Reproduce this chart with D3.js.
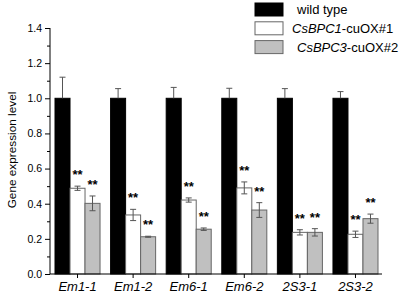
<!DOCTYPE html>
<html lang="en">
<head>
    <meta charset="UTF-8">
    <title>Gene expression bar chart</title>
    <script src="https://d3js.org/d3.v7.min.js"></script>
    <style>
        body { margin: 0; background: #fff; font-family: "Liberation Sans", Arial, sans-serif; }
        .tick text { font-family: "Liberation Sans", Arial, sans-serif; }
    </style>
</head>
<body>
<svg id="chart" width="403" height="295"></svg>
<script>
    // genes on the x axis and the three lines
    const genes = ["Em1-1", "Em1-2", "Em6-1", "Em6-2", "2S3-1", "2S3-2"];
    const series = ["wt", "bpc1", "bpc3"];
    const wildType = [1.0, 1.0, 1.0, 1.0, 1.0, 1.0];
    const wildTypeErr = [0.12, 0.055, 0.062, 0.057, 0.055, 0.038];
    const bpc1 = [0.488, 0.336, 0.421, 0.490, 0.237, 0.226];
    const bpc1Err = [0.012, 0.032, 0.012, 0.034, 0.015, 0.018];
    const bpc3 = [0.402, 0.212, 0.255, 0.364, 0.237, 0.315];
    const bpc3Err = [0.042, 0.003, 0.007, 0.042, 0.021, 0.026];
    const yTicks = [0, 0.2, 0.4, 0.6, 0.8, 1.0, 1.2, 1.4];

    const fills = { wt: "#000000", bpc1: "#ffffff", bpc3: "#c0c0c0" };

    const svg = d3.select("#chart");

    const x0 = d3.scaleBand()
        .domain(genes)
        .range([50, 383])
        .paddingInner(0.19)
        .paddingOuter(0.09);

    const x1 = d3.scaleBand()
        .domain(series)
        .range([0, x0.bandwidth()]);

    const y = d3.scaleLinear()
        .domain([0, 1.4])
        .range([274, 28]);

    // build rows from the arrays
    const rows = [];
    genes.forEach((g, i) => {
        rows.push({ gene: g, key: "wt", v: wildType[i], e: wildTypeErr[i], sig: false });
        rows.push({ gene: g, key: "bpc1", v: bpc1[i], e: bpc1Err[i], sig: true });
        rows.push({ gene: g, key: "bpc3", v: bpc3[i], e: bpc3Err[i], sig: true });
    });

    // bars
    svg.append("g").selectAll("rect")
        .data(rows)
        .enter()
        .append("rect")
        .attr("x", d => x0(d.gene) + x1(d.key))
        .attr("y", d => y(d.v))
        .attr("width", x1.bandwidth())
        .attr("height", d => y(0) - y(d.v))
        .attr("fill", d => fills[d.key])
        .attr("stroke", d => d.key === "wt" ? "#000" : "#666")
        .attr("stroke-width", 1);

    // error bars (wild type only shows upper whisker)
    const err = svg.append("g").attr("stroke", "#555").attr("stroke-width", 1);
    rows.forEach(d => {
        const cx = x0(d.gene) + x1(d.key) + x1.bandwidth() / 2;
        const top = y(d.v + d.e);
        const bot = d.key === "wt" ? y(d.v) : y(d.v - d.e);
        err.append("line").attr("x1", cx).attr("x2", cx).attr("y1", top).attr("y2", bot);
        err.append("line").attr("x1", cx - 3).attr("x2", cx + 3).attr("y1", top).attr("y2", top);
        if (d.key !== "wt") {
            err.append("line").attr("x1", cx - 3).attr("x2", cx + 3).attr("y1", bot).attr("y2", bot);
        }
    });

    // significance stars
    svg.append("g").selectAll("text")
        .data(rows.filter(d => d.sig))
        .enter()
        .append("text")
        .attr("x", d => x0(d.gene) + x1(d.key) + x1.bandwidth() / 2)
        .attr("y", d => y(d.v + d.e) - 7)
        .attr("text-anchor", "middle")
        .style("font-size", "13px")
        .style("font-weight", "bold")
        .text("**");

    // y axis with minor ticks
    const yMinor = d3.axisLeft(y).tickValues(d3.range(0.1, 1.4, 0.2)).tickSize(3).tickFormat("");
    svg.append("g").attr("transform", "translate(50,0)").call(yMinor)
        .call(g => g.select(".domain").remove());

    const yAxis = d3.axisLeft(y)
        .tickValues(yTicks)
        .tickSize(5)
        .tickPadding(3)
        .tickFormat(d3.format(".1f"));
    svg.append("g")
        .attr("transform", "translate(50,0)")
        .call(yAxis)
        .call(g => g.select(".domain").attr("d", "M0,274V28"))
        .selectAll("text")
        .style("font-size", "10.5px");

    // x axis
    const xAxis = d3.axisBottom(x0).tickSize(4).tickPadding(4);
    svg.append("g")
        .attr("transform", "translate(0,274)")
        .call(xAxis)
        .call(g => g.select(".domain").attr("d", "M50,0H382"))
        .selectAll("text")
        .style("font-size", "13px")
        .style("font-style", "italic");

    // y axis title
    svg.append("text")
        .attr("transform", "translate(15.5,150) rotate(-90)")
        .attr("text-anchor", "middle")
        .style("font-size", "11.8px")
        .text("Gene expression level");

    // legend
    const legendItems = [
        { key: "wt", it: "", rest: "wild type", dx: 0 },
        { key: "bpc1", it: "CsBPC1", rest: "-cuOX#1", dx: -5 },
        { key: "bpc3", it: "CsBPC3", rest: "-cuOX#2", dx: 0 }
    ];
    const legend = svg.append("g").attr("transform", "translate(255,3)");
    legendItems.forEach((d, i) => {
        const row = legend.append("g").attr("transform", `translate(0,${i * 18.8})`);
        row.append("rect")
            .attr("width", 28).attr("height", 13)
            .attr("fill", fills[d.key])
            .attr("stroke", d.key === "wt" ? "#000" : "#666");
        const t = row.append("text")
            .attr("x", 42 + d.dx).attr("y", 11)
            .style("font-size", "13px");
        if (d.it) t.append("tspan").style("font-style", "italic").text(d.it);
        t.append("tspan").text(d.rest);
    });
</script>
</body>
</html>
